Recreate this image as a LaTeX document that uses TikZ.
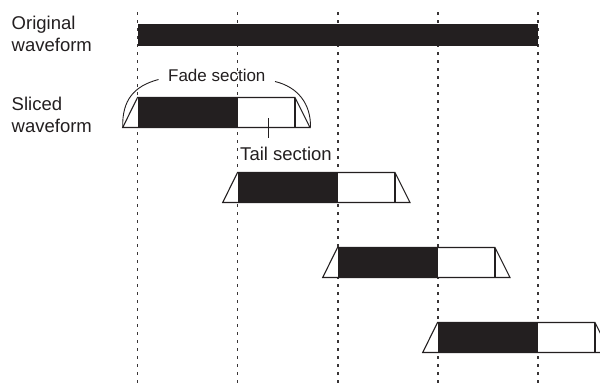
\documentclass[tikz,border=0pt]{standalone}
\usepackage{fontspec}
\setmainfont{Liberation Sans}
\definecolor{ink}{HTML}{231F20}
\begin{document}
\begin{tikzpicture}[x=1pt,y=-1pt,
  guide/.style={draw=ink!90, line width=1.3pt, dash pattern=on 2.6pt off 5.4pt},
  outline/.style={draw=ink, line width=1.1pt, line join=miter},
  lbl/.style={inner sep=0pt, font=\fontsize{18.5}{22.5}\selectfont, text=ink},
  callout/.style={draw=ink, line width=0.9pt}]
\useasboundingbox (0,0) rectangle (600,386);
\fill[white] (0,0) rectangle (600,386);
% guide lines
\foreach \x in {137.5,237.5,338,438,538}
  \draw[guide] (\x,12) -- (\x,386);
% original waveform
\fill[ink] (137.5,24) rectangle (537.5,46);
% sliced waveforms
\foreach \i in {0,1,2,3} {
  \begin{scope}[shift={(100*\i,75*\i)}]
    \fill[white] (122.7,127.5) -- (137.5,97.5) -- (295,97.5) -- (310,127.5) -- cycle;
    \fill[ink] (137.5,97.5) rectangle (237.5,127.5);
    \draw[outline] (122.7,127.5) -- (137.5,97.5) -- (295,97.5) -- (310,127.5) -- cycle;
    \draw[outline] (295,97.5) -- (295,127.5);
  \end{scope}
}
% labels
\node[lbl, anchor=north west, align=left] (orig) at (11.5,15.8) {Original\\waveform};
\node[lbl, anchor=north west, align=left] (sliced) at (11.5,96.5) {Sliced\\waveform};
\node[lbl, anchor=base, font=\fontsize{17}{21}\selectfont] (fade) at (216.8,81.7) {Fade section};
\node[lbl, anchor=base] (tail) at (286,160) {Tail section};
% callouts
\coordinate (fl) at (122.7,127.5);
\coordinate (fr) at (310.5,127.5);
\coordinate (fadeL) at (158.5,79.5);
\coordinate (fadeR) at (275,81.5);
\coordinate (tailtop) at (268,118);
\coordinate (tailbot) at (268,138);
\draw[callout] (fl) .. controls (122,100) and (134,86) .. (fadeL);
\draw[callout] (fadeR) .. controls (298,87) and (311,104) .. (fr);
\draw[callout] (tailtop) -- (tailbot);
\end{tikzpicture}
\end{document}
